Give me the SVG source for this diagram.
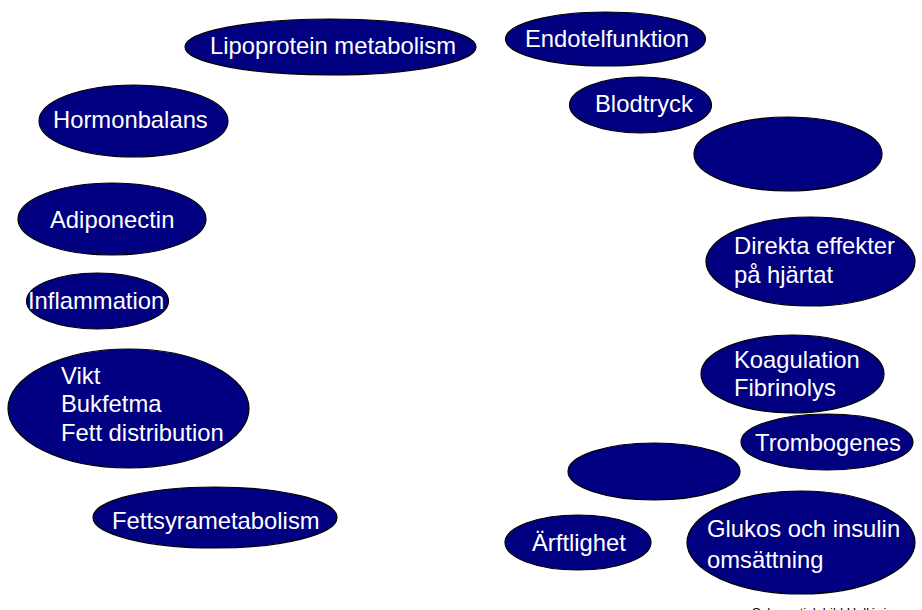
<svg xmlns="http://www.w3.org/2000/svg" width="922" height="610" viewBox="0 0 922 610">
<style>
.n{fill:#000080;stroke:#000;stroke-width:1.2}
.t{fill:#fff;font-family:"Liberation Sans",Arial,sans-serif;font-size:23.8px}
.s{fill:#000;font-family:"Liberation Sans",Arial,sans-serif;font-size:13px}
</style>
<rect width="922" height="610" fill="#fff"/>
<g id="connectors"></g>
<g id="lipoprotein"><ellipse class="n" cx="330.5" cy="47" rx="145.5" ry="28"/><text class="t" x="210" y="54">Lipoprotein metabolism</text></g>
<g id="endotel"><ellipse class="n" cx="605.5" cy="39" rx="100" ry="27"/><text class="t" x="525" y="47">Endotelfunktion</text></g>
<g id="blodtryck"><ellipse class="n" cx="640.5" cy="105" rx="71" ry="28"/><text class="t" x="595" y="112">Blodtryck</text></g>
<g id="empty1"><ellipse class="n" cx="788" cy="154" rx="94" ry="37"/></g>
<g id="hormon"><ellipse class="n" cx="133.5" cy="121" rx="94.5" ry="36"/><text class="t" x="53" y="128">Hormonbalans</text></g>
<g id="adipo"><ellipse class="n" cx="112" cy="219" rx="94" ry="36"/><text class="t" x="50" y="228">Adiponectin</text></g>
<g id="direkta"><ellipse class="n" cx="810.5" cy="261.5" rx="104.5" ry="44.5"/><text class="t" x="734" y="254">Direkta effekter</text><text class="t" x="734" y="283">på hjärtat</text></g>
<g id="inflammation"><ellipse class="n" cx="97.5" cy="301" rx="71" ry="28"/><text class="t" x="28" y="309">Inflammation</text></g>
<g id="vikt"><ellipse class="n" cx="128.5" cy="408.5" rx="120.5" ry="59.5"/><text class="t" x="61" y="384">Vikt</text><text class="t" x="61" y="412">Bukfetma</text><text class="t" x="61" y="441">Fett distribution</text></g>
<g id="koagulation"><ellipse class="n" cx="792.5" cy="374" rx="91.5" ry="39"/><text class="t" x="734" y="368">Koagulation</text><text class="t" x="734" y="396">Fibrinolys</text></g>
<g id="trombogenes"><ellipse class="n" cx="827" cy="442" rx="86" ry="28"/><text class="t" x="755" y="451">Trombogenes</text></g>
<g id="empty2"><ellipse class="n" cx="654" cy="471.5" rx="86" ry="28.5"/></g>
<g id="fettsyra"><ellipse class="n" cx="215" cy="517.5" rx="122" ry="30.5"/><text class="t" x="112" y="529">Fettsyrametabolism</text></g>
<g id="arftlighet"><ellipse class="n" cx="578" cy="542.5" rx="73" ry="27.5"/><text class="t" x="532" y="551">Ärftlighet</text></g>
<g id="glukos"><ellipse class="n" cx="801" cy="542.5" rx="114" ry="51.5"/><text class="t" x="707" y="537">Glukos och insulin</text><text class="t" x="707" y="568">omsättning</text></g>
<text class="s" x="752" y="617">Schematisk bild Hallénius</text>
</svg>
